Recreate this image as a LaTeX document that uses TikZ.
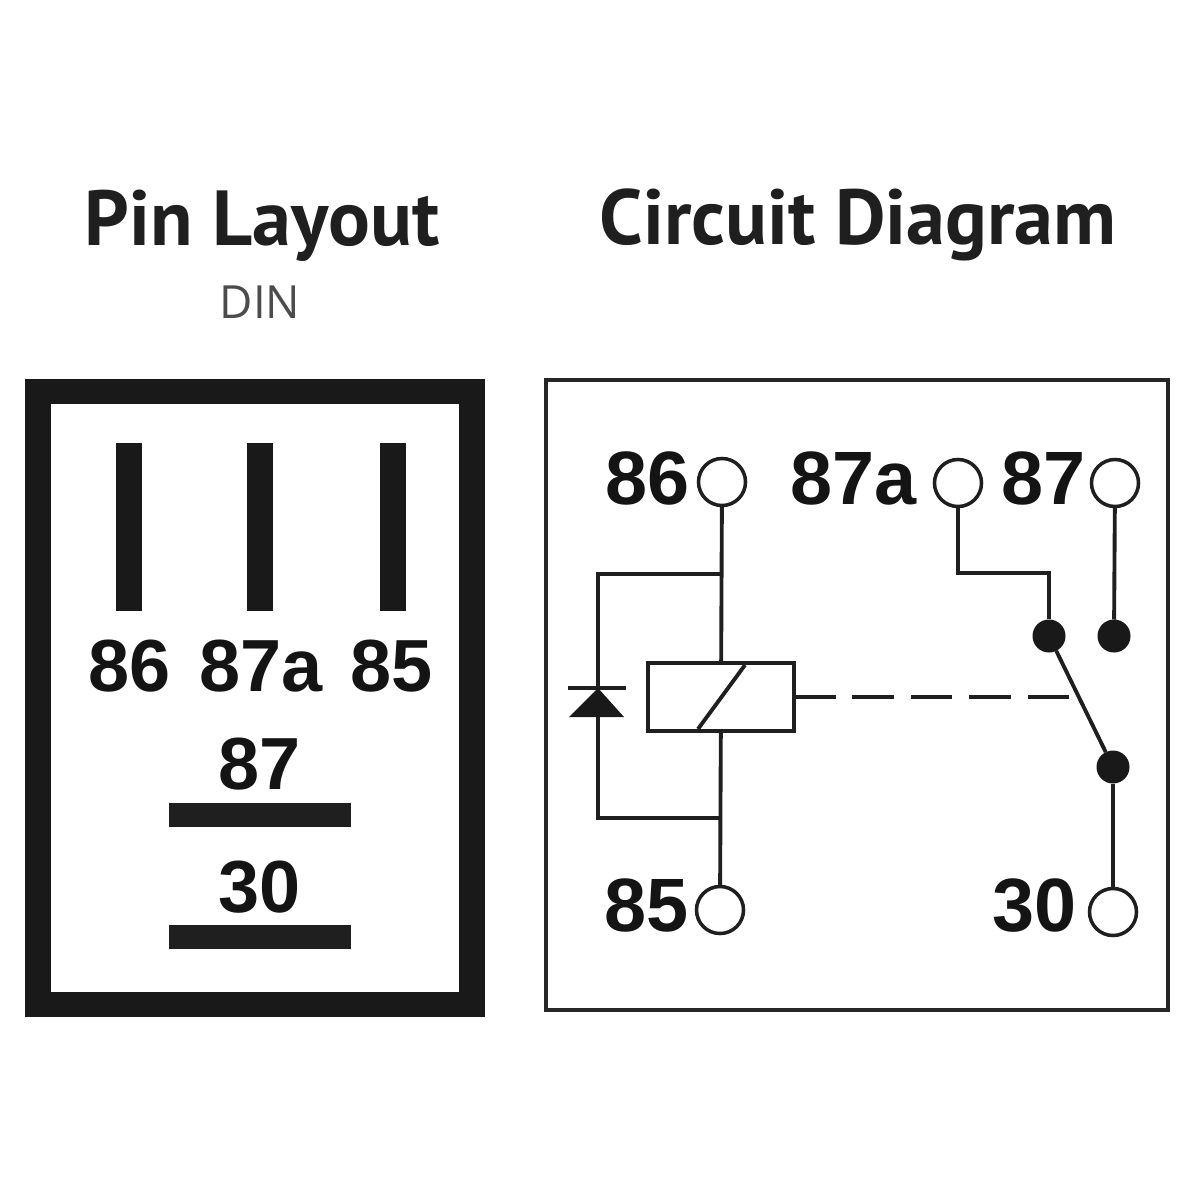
\documentclass[tikz,border=0pt]{standalone}
\usepackage{fontspec}
\setmainfont{Open Sans}
\newfontfamily\digitfont{Liberation Sans}
\newfontfamily\headfont{PT Sans}
\tikzstyle{heading}=[font=\headfont\fontsize{22.2pt}{22.2pt}\selectfont\bfseries, inner sep=0pt, text=black!88]
\tikzstyle{din}=[font=\fontsize{13pt}{13pt}\selectfont, inner sep=0pt, text=black!70]
\tikzstyle{pinlabel}=[font=\digitfont\fontsize{21pt}{21pt}\selectfont\bfseries, inner sep=0pt, text=black!92]
\tikzstyle{circlabel}=[font=\digitfont\fontsize{21.5pt}{21.5pt}\selectfont\bfseries, inner sep=0pt, text=black!92]
\tikzstyle{bladeV}=[rectangle, fill=black!90, minimum width=0.26cm, minimum height=1.68cm, inner sep=0pt]
\tikzstyle{bladeH}=[rectangle, fill=black!88, minimum width=1.82cm, minimum height=0.24cm, inner sep=0pt]
\tikzstyle{term}=[circle, draw=black!88, line width=1pt, minimum size=0.47cm, inner sep=0pt, outer sep=0pt, fill=white]
\tikzstyle{contact}=[circle, fill=black!90, minimum size=0.33cm, inner sep=0pt, outer sep=0pt]
\tikzstyle{wire}=[line width=1.1pt, draw=black!88]

\begin{document}
\begin{tikzpicture}[x=0.01cm, y=-0.01cm]
\useasboundingbox (0,0) rectangle (1200,1200);

\node(titleL)[heading] at (262,226){Pin Layout};
\node(din)[din] at (260,302){DIN};
\node(titleR)[heading] at (858,225){Circuit Diagram};

% pin layout
\node(frame)[rectangle, draw=black!90, line width=7.2pt, minimum width=4.34cm, minimum height=6.12cm] at (255,698){};
\node(b86)[bladeV] at (129,527){};
\node(b87a)[bladeV] at (260,527){};
\node(b85)[bladeV] at (393,527){};
\node(l86)[pinlabel] at (130,666){86};
\node(l87a)[pinlabel] at (261,666){87a};
\node(l85)[pinlabel] at (392,666){85};
\node(l87)[pinlabel] at (260,764){87};
\node(b87)[bladeH] at (260,815){};
\node(l30)[pinlabel] at (260,887){30};
\node(b30)[bladeH] at (260,937){};

% circuit diagram
\node(box)[rectangle, draw=black!85, line width=1pt, minimum width=6.22cm, minimum height=6.3cm] at (857,695){};
\node(t86)[term] at (722,482){};
\node(t87a)[term] at (958,483){};
\node(t87)[term] at (1115,483){};
\node(t85)[term] at (720,910){};
\node(t30)[term] at (1113,912){};
\node(n86)[circlabel, anchor=east] at (690,478){86};
\node(n87a)[circlabel, anchor=east] at (917,478){87a};
\node(n87)[circlabel, anchor=east] at (1086,478){87};
\node(n85)[circlabel, anchor=east] at (689,905){85};
\node(n30)[circlabel, anchor=east] at (1077,906){30};

\node(coil)[rectangle, draw=black!88, line width=1.1pt, minimum width=1.46cm, minimum height=0.68cm, inner sep=0pt, outer sep=0pt] at (721,697){};
\node(c87a)[contact] at (1049,636){};
\node(c87)[contact] at (1114,636){};
\node(c30)[contact] at (1113,767){};

\coordinate(top)at(721,574);
\coordinate(bot)at(720,818);
\coordinate(topL)at(598,574);
\coordinate(botL)at(598,818);
\coordinate(dkTop)at(598,688);
\coordinate(dkBot)at(598,716);
\coordinate(slashA)at(698,729);
\coordinate(slashB)at(745,665);
\coordinate(dash)at(1070,697);
\coordinate(barL)at(568,688);
\coordinate(barR)at(626,688);
\coordinate(triA)at(569,717);
\coordinate(triB)at(624,717);
\coordinate(jogA)at(958,573);
\coordinate(jogB)at(1049,573);

\draw[wire](t86)--(coil);
\draw[wire](coil)--(t85);
\draw[wire](top)--(topL)--(dkTop);
\draw[wire](bot)--(botL)--(dkBot);
\draw[wire](slashA)--(slashB);
\draw[line width=1.2pt, draw=black!88](barL)--(barR);
\fill[black!90](dkTop)--(triB)--(triA)--cycle;

\draw[wire](t87a)--(jogA)--(jogB)--(c87a);
\draw[wire](t87)--(c87);
\draw[wire](c30)--(t30);
\draw[wire](c87a)--(c30);
\draw[wire, dash pattern=on 11.8pt off 4.8pt](coil.east)--(dash);
\end{tikzpicture}
\end{document}
